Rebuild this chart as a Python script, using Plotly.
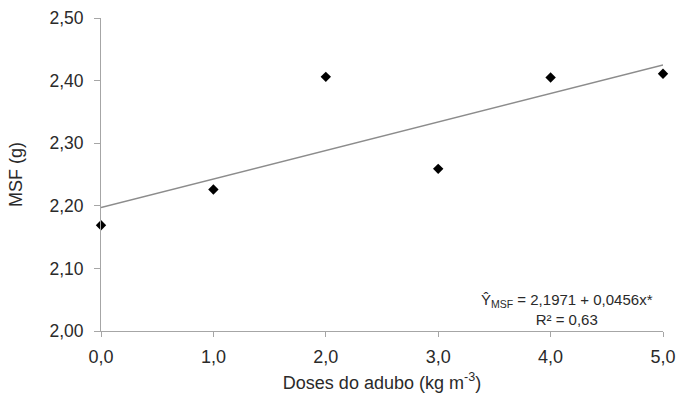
import plotly.graph_objects as go

doses = [0, 1, 2, 3, 4, 5]
msf = [2.169, 2.226, 2.406, 2.259, 2.405, 2.411]
b0 = 2.1971
b1 = 0.0456
fit_x = [0, 5]
fit_y = [b0 + b1 * x for x in fit_x]

fig = go.Figure()
fig.add_trace(go.Scatter(x=fit_x, y=fit_y, mode="lines",
                         line=dict(color="#8c8c8c", width=1.5), showlegend=False, hoverinfo="skip"))
fig.add_trace(go.Scatter(x=doses, y=msf, mode="markers",
                         marker=dict(symbol="diamond", size=8, color="black"), showlegend=False, cliponaxis=False))

fam = "Liberation Sans, Arial, sans-serif"
fig.update_layout(
    width=676, height=397,
    margin=dict(l=101, r=13, t=18, b=66, autoexpand=False),
    paper_bgcolor="white", plot_bgcolor="white",
    separators=",.",
    font=dict(family=fam, size=18, color="#2a2a2a"),
    xaxis=dict(range=[0, 5], tickvals=doses, tickformat=".1f", showgrid=False, zeroline=False,
               showline=True, linecolor="#a6a6a6", linewidth=1, ticks="outside", ticklen=5,
               tickcolor="#a6a6a6", automargin=False, tickfont=dict(size=18),
               ticklabelstandoff=4,
               title=dict(text="Doses do adubo (kg m<sup>-3</sup>)", standoff=10, font=dict(size=18))),
    yaxis=dict(range=[2.0, 2.5], dtick=0.1, tickformat=".2f", showgrid=False, zeroline=False,
               showline=True, linecolor="#a6a6a6", linewidth=1, ticks="outside", ticklen=6,
               tickcolor="#a6a6a6", automargin=False, tickfont=dict(size=17.5),
               ticklabelstandoff=7,
               title=dict(text="MSF (g)", standoff=22, font=dict(size=18))),
)
fig.add_annotation(xref="x", yref="y", x=4.15, y=2.034, showarrow=False,
                   text="Ŷ<sub>MSF</sub> = 2,1971 + 0,0456x*<br>R² = 0,63",
                   font=dict(family=fam, size=15, color="#2a2a2a"),
                   align="center")
fig.write_html("out.html")
